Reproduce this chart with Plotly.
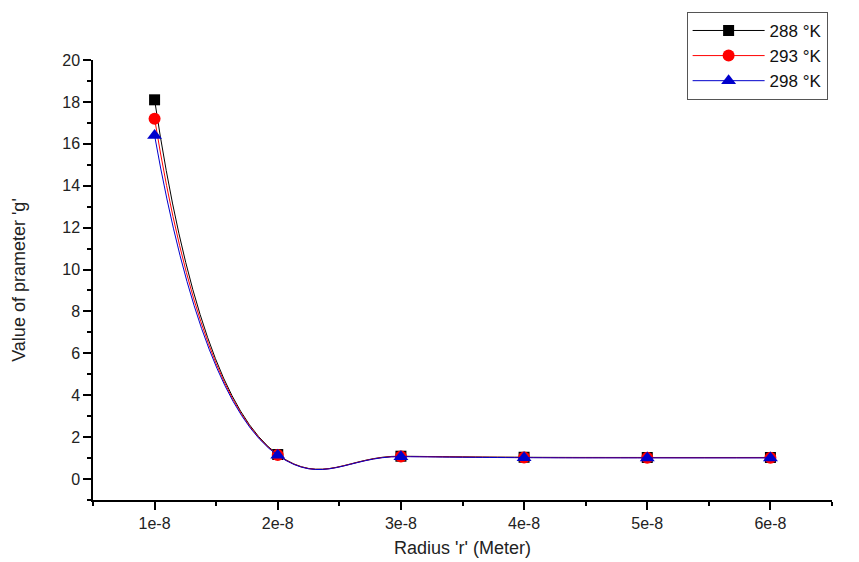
import plotly.graph_objects as go

radius = [1e-8, 2e-8, 3e-8, 4e-8, 5e-8, 6e-8]
g_288 = [18.1, 1.17, 1.09, 1.04, 1.03, 1.03]
g_293 = [17.2, 1.15, 1.08, 1.03, 1.02, 1.02]
g_298 = [16.4, 1.13, 1.07, 1.02, 1.01, 1.01]
series_names = ["288 °K", "293 °K", "298 °K"]
x_tick_vals = [1e-8, 2e-8, 3e-8, 4e-8, 5e-8, 6e-8]
x_tick_text = ["1e-8", "2e-8", "3e-8", "4e-8", "5e-8", "6e-8"]
x_minor_vals = [0.5e-8, 1.5e-8, 2.5e-8, 3.5e-8, 4.5e-8, 5.5e-8, 6.5e-8]

styles = [
    dict(color="#000000", symbol="square", size=11),
    dict(color="#ff0000", symbol="circle", size=12),
    dict(color="#0000cc", symbol="triangle-up", size=13),
]

fig = go.Figure()
for name, vals, st in zip(series_names, [g_288, g_293, g_298], styles):
    fig.add_trace(go.Scatter(
        x=radius, y=vals, name=name, mode="lines+markers",
        line=dict(color=st["color"], width=1, shape="spline", smoothing=1.3),
        marker=dict(color=st["color"], symbol=st["symbol"], size=st["size"]),
    ))

font = "Liberation Sans, Arial, sans-serif"
fig.update_layout(
    width=859, height=562,
    margin=dict(l=85, r=35, t=52, b=70, autoexpand=False),
    plot_bgcolor="white", paper_bgcolor="white",
    font=dict(family=font, size=16, color="#222222"),
    showlegend=True,
    legend=dict(
        xref="container", yref="container",
        x=0.79, y=0.993, xanchor="left", yanchor="top",
        bordercolor="#555555", borderwidth=1, bgcolor="white",
        font=dict(size=17, color="#111111"), itemwidth=72,
        tracegroupgap=0, traceorder="normal",
    ),
    xaxis=dict(
        range=[0.5e-8, 6.5e-8], tickmode="array",
        tickvals=x_tick_vals, ticktext=x_tick_text,
        showgrid=False, zeroline=False, showline=True,
        linecolor="black", linewidth=1.5, ticks="outside",
        ticklen=8, tickwidth=1.5, tickcolor="black",
        minor=dict(tickmode="array", tickvals=x_minor_vals, ticks="outside",
                   ticklen=4, tickwidth=1.5, tickcolor="black"),
        title=dict(text="Radius 'r' (Meter)", font=dict(size=18), standoff=10),
        tickfont=dict(size=16),
        automargin=False,
    ),
    yaxis=dict(
        range=[-1, 20], tickmode="linear", tick0=0, dtick=2,
        showgrid=False, zeroline=False, showline=True,
        linecolor="black", linewidth=1.5, ticks="outside",
        ticklen=8, tickwidth=1.5, tickcolor="black",
        minor=dict(tick0=1, dtick=2, ticks="outside", ticklen=4,
                   tickwidth=1.5, tickcolor="black"),
        title=dict(text="Value of prameter 'g'", font=dict(size=18), standoff=32),
        tickfont=dict(size=16),
        automargin=False,
    ),
)

fig.write_html("out.html")
